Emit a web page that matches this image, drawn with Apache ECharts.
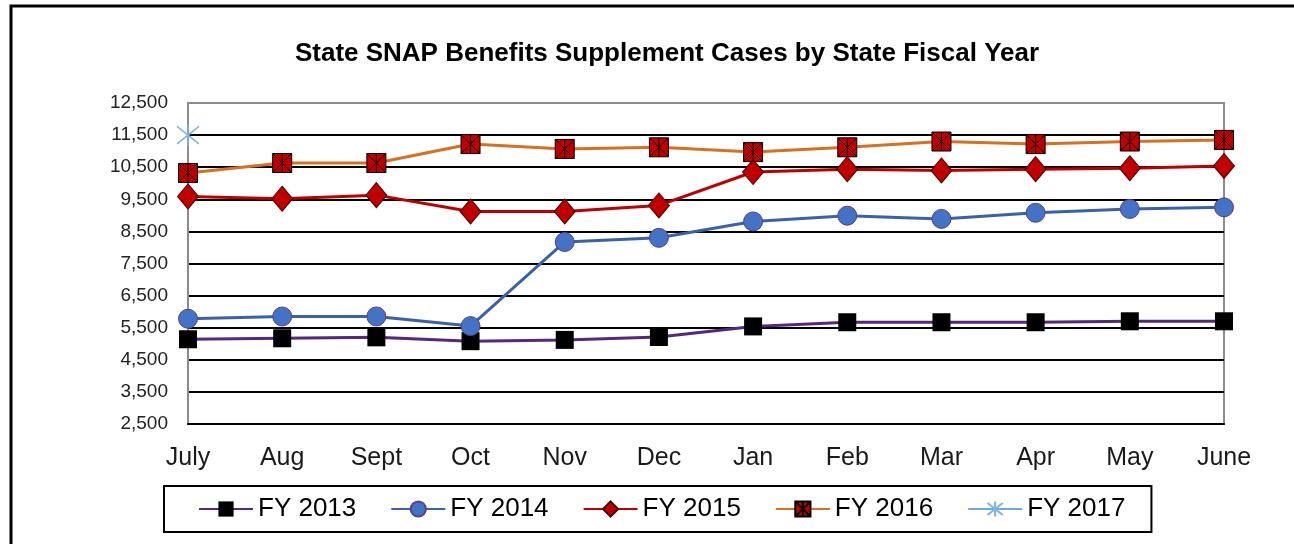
<!DOCTYPE html>
<html>
<head>
<meta charset="utf-8">
<script src="https://cdn.jsdelivr.net/npm/echarts@6/dist/echarts.min.js"></script>
<style>
  html, body { margin: 0; padding: 0; background: #fff; }
  #chart { width: 1294px; height: 544px; }
</style>
</head>
<body>
<div id="chart"></div>
<script>
const months = ['July', 'Aug', 'Sept', 'Oct', 'Nov', 'Dec', 'Jan', 'Feb', 'Mar', 'Apr', 'May', 'June'];
const fy2013 = [5140, 5170, 5200, 5080, 5120, 5210, 5540, 5670, 5670, 5670, 5700, 5700];
const fy2014 = [5780, 5850, 5850, 5550, 8170, 8300, 8810, 8990, 8890, 9080, 9200, 9250];
const fy2015 = [9590, 9520, 9630, 9120, 9120, 9310, 10350, 10440, 10400, 10440, 10470, 10540];
const fy2016 = [10320, 10630, 10630, 11220, 11070, 11120, 10970, 11120, 11300, 11220, 11300, 11350];
const fy2017 = [11500];

const font = 'Arial, "Liberation Sans", sans-serif';

// square with an X and a vertical bar, like the excel marker
const crossBox = 'path://M0,0L10,0L10,10L0,10Z M0,0L10,10 M10,0L0,10 M5,0L5,10';
const star = 'path://M5,0L5,10 M1,1L9,9 M9,1L1,9';

const chart = echarts.init(document.getElementById('chart'));

// gridlines are black, except the top edge which belongs to the grey plot border
const splitColors = [];
for (let v = 2500; v < 12500; v += 1000) splitColors.push('#000');
splitColors.push('#8c8c8c');

chart.setOption({
  animation: false,
  backgroundColor: '#fff',
  title: {
    text: 'State SNAP Benefits Supplement Cases by State Fiscal Year',
    left: 662,
    textAlign: 'center',
    top: 36,
    textStyle: { fontFamily: font, fontSize: 26, fontWeight: 'bold', color: '#000' }
  },
  graphic: [{
    type: 'rect',
    shape: { x: 11, y: 6, width: 1300, height: 560 },
    style: { fill: 'none', stroke: '#000', lineWidth: 3 },
    silent: true
  }],
  grid: {
    left: 188,
    right: 70,
    top: 103,
    bottom: 120,
    show: true,
    borderColor: '#8c8c8c',
    borderWidth: 2,
    backgroundColor: 'transparent'
  },
  legend: {
    left: 164,
    top: 486,
    padding: [10, 26, 10, 34],
    borderColor: '#000',
    borderWidth: 2,
    itemWidth: 54,
    itemHeight: 19,
    itemGap: 34,
    textStyle: { fontFamily: font, fontSize: 26, color: '#000' },
    data: ['FY 2013', 'FY 2014', 'FY 2015', 'FY 2016', 'FY 2017']
  },
  xAxis: {
    type: 'category',
    data: months,
    boundaryGap: false,
    axisTick: { show: false },
    axisLine: { lineStyle: { color: '#000', width: 2 } },
    axisLabel: { fontFamily: font, fontSize: 25, color: '#1a1a1a', margin: 22 }
  },
  yAxis: {
    type: 'value',
    min: 2500,
    max: 12500,
    interval: 1000,
    axisLine: { show: true, lineStyle: { color: '#8c8c8c', width: 2 } },
    axisTick: { show: false },
    axisLabel: { fontFamily: font, fontSize: 19, color: '#222', margin: 20 },
    splitLine: { lineStyle: { color: splitColors, width: 2 } }
  },
  series: [
    {
      name: 'FY 2013',
      type: 'line',
      data: fy2013,
      symbol: 'rect',
      symbolSize: 18,
      lineStyle: { color: '#55287e', width: 3 },
      itemStyle: { color: '#000', borderColor: '#000', borderWidth: 0 },
      z: 2
    },
    {
      name: 'FY 2014',
      type: 'line',
      data: fy2014,
      symbol: 'circle',
      symbolSize: 19,
      lineStyle: { color: '#3a62aa', width: 3 },
      itemStyle: { color: '#4472c4', borderColor: '#5a3f8f', borderWidth: 1 },
      z: 3
    },
    {
      name: 'FY 2015',
      type: 'line',
      data: fy2015,
      symbol: 'diamond',
      symbolSize: [21, 25],
      lineStyle: { color: '#c00000', width: 3 },
      itemStyle: { color: '#c00000', borderColor: '#4a0000', borderWidth: 1 },
      z: 4
    },
    {
      name: 'FY 2016',
      type: 'line',
      data: fy2016,
      symbol: crossBox,
      symbolSize: 19,
      lineStyle: { color: '#d8701e', width: 3 },
      itemStyle: { color: '#c00000', borderColor: '#000', borderWidth: 1 },
      z: 5
    },
    {
      name: 'FY 2017',
      type: 'line',
      data: fy2017,
      symbol: star,
      symbolSize: 22,
      lineStyle: { color: '#6fa8dc', width: 3 },
      itemStyle: { color: 'none', borderColor: '#7ab3ea', borderWidth: 1.5 },
      z: 6
    }
  ]
});
</script>
</body>
</html>
